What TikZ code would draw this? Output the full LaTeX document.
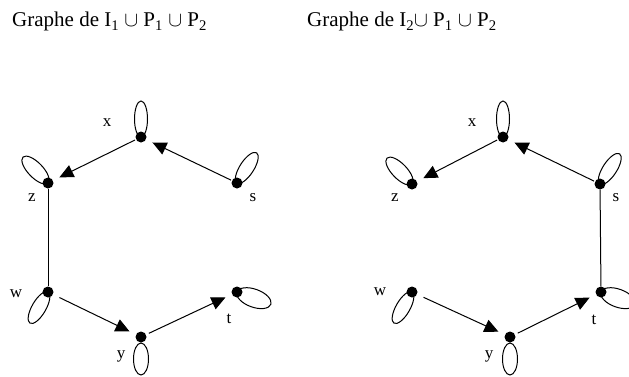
\documentclass[tikz,border=0pt]{standalone}
\usepackage{fontspec}
\setmainfont{Liberation Serif}
\usetikzlibrary{arrows.meta}

\tikzset{
  sommet/.style={circle,fill=black,inner sep=0pt,minimum size=11pt},
  arc/.style={line width=1pt,-{Triangle[length=14pt,width=13pt]},shorten >=7pt,shorten <=1pt},
  arete/.style={line width=1pt},
  boucle/.style={line width=1pt},
  etiq/.style={inner sep=0pt,font=\fontsize{17}{19}\selectfont},
  titre/.style={anchor=base west,inner sep=0pt,font=\fontsize{21}{24}\selectfont}
}

\begin{document}
\begin{tikzpicture}[x=1pt,y=1pt]
\useasboundingbox (0,0) rectangle (629,376);

% titres
\node[titre] (titreA) at (12,349) {Graphe de I\textsubscript{1} $\cup$ P\textsubscript{1}\ $\cup$ P\textsubscript{2}};
\node[titre] (titreB) at (307,349) {Graphe de I\textsubscript{2}$\cup$ P\textsubscript{1}\ $\cup$ P\textsubscript{2}};

% graphe de gauche
\node[sommet] (x1) at (141,239) {};
\node[sommet] (z1) at (48,193) {};
\node[sommet] (s1) at (237,193) {};
\node[sommet] (w1) at (48,84) {};
\node[sommet] (y1) at (141,39) {};
\node[sommet] (t1) at (237,84) {};

\node[etiq] (lx1) at (107,253) {x};
\node[etiq] (lz1) at (32,178) {z};
\node[etiq] (ls1) at (253,178) {s};
\node[etiq] (lw1) at (16,82) {w};
\node[etiq] (lt1) at (229,57) {t};
\node[etiq] (ly1) at (121,20) {y};

\draw[arc] (x1) -- (z1);
\draw[arc] (s1) -- (x1);
\draw[arc,shorten <=7pt] (w1) -- (y1);
\draw[arc,shorten <=3pt] (y1) -- (t1);
\draw[arete] (z1) -- (w1);

\draw[boucle,shift={(x1.center)}] (0,18pt) ellipse (6.5pt and 18pt);
\draw[boucle,shift={(z1.center)},rotate=44] (0,18pt) ellipse (7.5pt and 18pt);
\draw[boucle,shift={(s1.center)},rotate=-33] (0,18pt) ellipse (7pt and 18pt);
\draw[boucle,shift={(w1.center)},rotate=150] (0,18pt) ellipse (7pt and 18pt);
\draw[boucle,shift={(y1.center)},rotate=180] (0,22pt) ellipse (7.5pt and 16pt);
\draw[boucle,shift={(t1.center)},rotate=-110] (0,18pt) ellipse (9pt and 18pt);

% graphe de droite
\node[sommet] (x2) at (503,239) {};
\node[sommet] (z2) at (412,192) {};
\node[sommet] (s2) at (600,192) {};
\node[sommet] (w2) at (412,84) {};
\node[sommet] (y2) at (510,39) {};
\node[sommet] (t2) at (601,84) {};

\node[etiq] (lx2) at (472,253) {x};
\node[etiq] (lz2) at (395,178) {z};
\node[etiq] (ls2) at (616,178) {s};
\node[etiq] (lw2) at (380,84) {w};
\node[etiq] (lt2) at (594,56) {t};
\node[etiq] (ly2) at (489,20) {y};

\draw[arc] (x2) -- (z2);
\draw[arc] (s2) -- (x2);
\draw[arc,shorten <=7pt] (w2) -- (y2);
\draw[arc,shorten <=3pt] (y2) -- (t2);
\draw[arete] (s2) -- (t2);

\draw[boucle,shift={(x2.center)}] (0,18pt) ellipse (6.5pt and 18pt);
\draw[boucle,shift={(z2.center)},rotate=44] (0,18pt) ellipse (7.5pt and 18pt);
\draw[boucle,shift={(s2.center)},rotate=-33] (0,18pt) ellipse (7pt and 18pt);
\draw[boucle,shift={(w2.center)},rotate=150] (0,18pt) ellipse (7pt and 18pt);
\draw[boucle,shift={(y2.center)},rotate=180] (0,22pt) ellipse (7.5pt and 16pt);
\draw[boucle,shift={(t2.center)},rotate=-110] (0,18pt) ellipse (9pt and 18pt);
\end{tikzpicture}
\end{document}
